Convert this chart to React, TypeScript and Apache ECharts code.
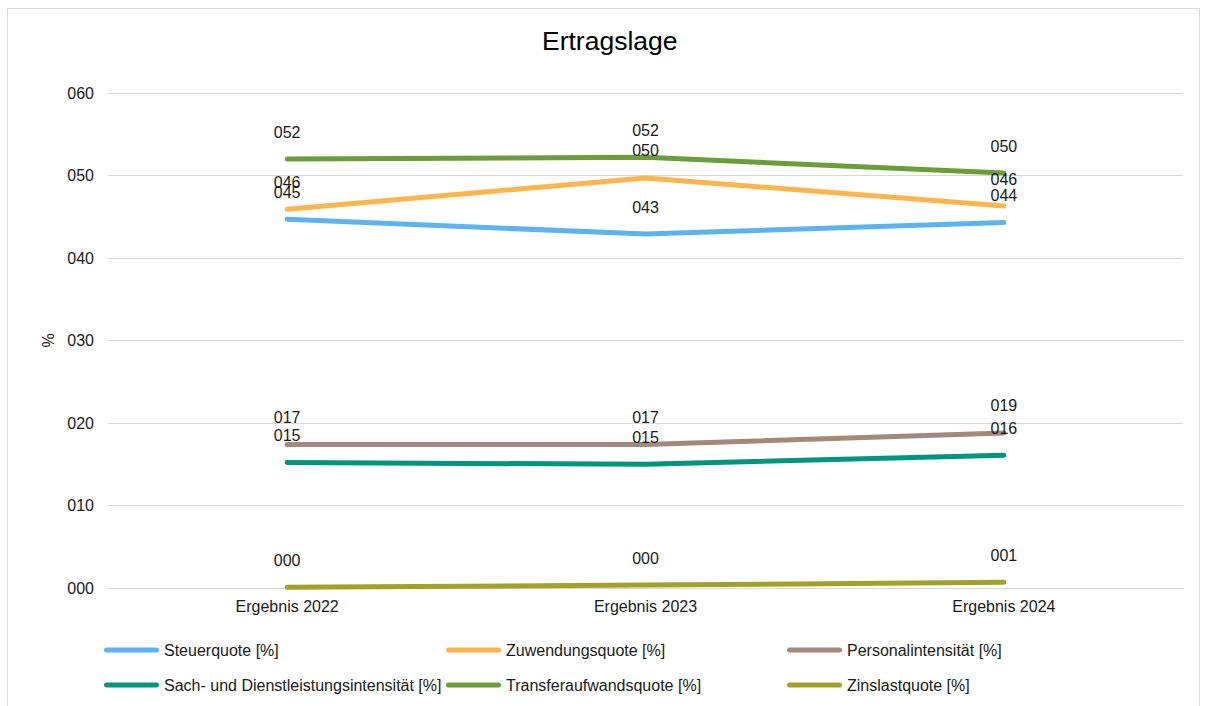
import React, { useEffect, useRef } from "react";
import * as echarts from "echarts";

const categories = ["Ergebnis 2022", "Ergebnis 2023", "Ergebnis 2024"];
const seriesNames = [
  "Steuerquote [%]",
  "Zuwendungsquote [%]",
  "Personalintensität [%]",
  "Sach- und Dienstleistungsintensität [%]",
  "Transferaufwandsquote [%]",
  "Zinslastquote [%]",
];
const steuerquote = [44.7, 42.9, 44.3];
const zuwendungsquote = [45.9, 49.7, 46.3];
const personalintensitaet = [17.4, 17.4, 18.8];
const sachDienst = [15.2, 15.0, 16.1];
const transferaufwand = [52.0, 52.2, 50.3];
const zinslast = [0.1, 0.35, 0.7];
const yTicks = [0, 10, 20, 30, 40, 50, 60];

const seriesValues = [steuerquote, zuwendungsquote, personalintensitaet, sachDienst, transferaufwand, zinslast];
const colors = ["#5DB3F2", "#FFB54C", "#A3887B", "#00957F", "#6A9E37", "#A3A228"];

const FONT = "'Liberation Sans', Arial, sans-serif";
const pad3 = (v: number) => String(Math.round(v)).padStart(3, "0");

export default function App() {
  const ref = useRef<HTMLDivElement>(null);
  useEffect(() => {
    if (!ref.current) return;
    const chart = echarts.init(ref.current, null, { renderer: "svg" });
    const legendPos = [
      { left: 104, top: 642 },
      { left: 446, top: 642 },
      { left: 787, top: 642 },
      { left: 104, top: 677 },
      { left: 446, top: 677 },
      { left: 787, top: 677 },
    ];
    chart.setOption({
      animation: false,
      backgroundColor: "#ffffff",
      textStyle: { fontFamily: FONT },
      title: {
        text: "Ertragslage",
        left: 542,
        top: 27,
        padding: 0,
        textStyle: { fontFamily: FONT, fontSize: 26.5, fontWeight: "normal", color: "#000" },
      },
      graphic: [
        {
          type: "rect",
          shape: { x: 7.5, y: 8.5, width: 1192, height: 730 },
          style: { fill: "none", stroke: "#d9d9d9", lineWidth: 1 },
          silent: true,
        },
      ],
      legend: legendPos.map((p, i) => ({
        data: [seriesNames[i]],
        left: p.left,
        top: p.top,
        padding: 0,
        itemWidth: 55,
        itemHeight: 5,
        itemGap: 0,
        icon: "path://M2.5,0 H52.5 A2.5,2.5 0 0 1 52.5,5 H2.5 A2.5,2.5 0 0 1 2.5,0 Z",
        itemStyle: { color: colors[i], opacity: 1 },
        textStyle: { fontFamily: FONT, fontSize: 16, color: "#1a1a1a" },
      })),
      grid: { left: 108, right: 26, top: 93, bottom: 118, containLabel: false },
      xAxis: {
        type: "category",
        data: categories,
        boundaryGap: true,
        axisLine: { show: true, lineStyle: { color: "#d9d9d9", width: 1 } },
        axisTick: { show: false },
        axisLabel: { fontFamily: FONT, fontSize: 16, color: "#1a1a1a", margin: 10 },
      },
      yAxis: {
        type: "value",
        min: yTicks[0],
        max: yTicks[yTicks.length - 1],
        interval: 10,
        name: "%",
        nameLocation: "middle",
        nameGap: 52,
        nameTextStyle: { fontFamily: FONT, fontSize: 16, color: "#1a1a1a" },
        axisLine: { show: false },
        axisTick: { show: false },
        splitLine: { lineStyle: { color: "#d9d9d9", width: 1 } },
        axisLabel: { fontFamily: FONT, fontSize: 16, color: "#1a1a1a", margin: 14, formatter: (v: number) => pad3(v) },
      },
      series: seriesNames.map((name, i) => ({
        name,
        type: "line",
        data: seriesValues[i],
        symbol: "circle",
        symbolSize: 0,
        showSymbol: true,
        color: colors[i],
        itemStyle: { color: colors[i] },
        lineStyle: { width: 5, color: colors[i], cap: "round", join: "round" },
        label: {
          show: true,
          position: "top",
          distance: 19,
          fontFamily: FONT,
          fontSize: 16,
          color: "#1a1a1a",
          formatter: (p: any) => pad3(p.value),
        },
        labelLayout: { hideOverlap: false },
      })),
    });
    return () => chart.dispose();
  }, []);
  return (
    <div
      ref={ref}
      style={{ position: "absolute", left: 0, top: 0, width: 1209, height: 706 }}
    />
  );
}
